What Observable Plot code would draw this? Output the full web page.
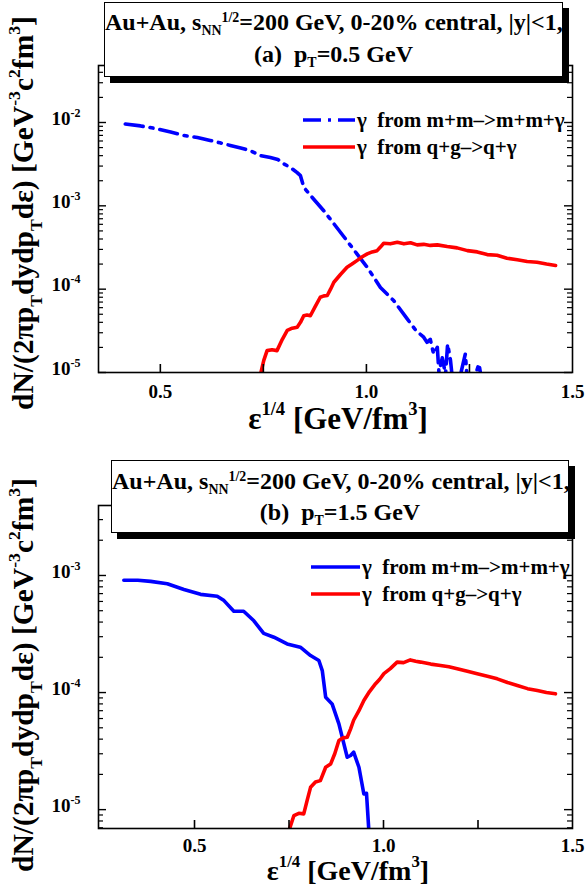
<!DOCTYPE html>
<html>
<head>
<meta charset="utf-8">
<script src="https://cdn.jsdelivr.net/npm/d3@7"></script>
<script src="https://cdn.jsdelivr.net/npm/@observablehq/plot@0.6"></script>
<style>
  body { margin: 0; background: #fff; }
  #wrap { position: relative; width: 585px; height: 886px; overflow: hidden;
          font-family: "Liberation Serif", "Times New Roman", serif; font-weight: bold; color: #000; }
  .panel { position: absolute; left: 0; }
  .tbox { position: absolute; box-sizing: border-box; background: #fff; border: 1px solid #000;
          box-shadow: 6px 6px 0 #000; text-align: center; font-size: 24px; white-space: nowrap; }
  .tbox sub, .tbox sup { font-size: 0.58em; line-height: 0; position: relative; vertical-align: baseline; }
  .tbox sub { top: 0.35em; }
  .tbox sup { top: -0.55em; }
</style>
</head>
<body>
<div id="wrap"></div>
<script>
// ε^(1/4) grid (GeV/fm^3) and photon yields, panel (a): pT = 0.5 GeV
const epsA_mm = [0.415, 0.452, 0.492, 0.525, 0.557, 0.590, 0.621, 0.645, 0.670, 0.695, 0.718, 0.743,
  0.767, 0.785, 0.799, 0.815, 0.832, 0.840, 0.848, 0.868, 0.896, 0.921, 0.953, 0.977, 1.002, 1.034,
  1.066, 1.099, 1.120, 1.139, 1.147, 1.155, 1.163, 1.172, 1.176, 1.184, 1.192, 1.197, 1.204, 1.208,
  1.225, 1.240, 1.244, 1.260, 1.273, 1.278];
const yieldA_mm = [9.6e-3, 9.1e-3, 8.4e-3, 7.7e-3, 7.0e-3, 6.6e-3, 6.1e-3, 5.7e-3, 5.3e-3, 4.95e-3, 4.6e-3, 4.0e-3,
  3.8e-3, 3.6e-3, 3.2e-3, 2.9e-3, 2.5e-3, 2.3e-3, 1.67e-3, 1.27e-3, 8.8e-4, 6.1e-4, 3.8e-4, 2.65e-4, 1.83e-4, 1.05e-4,
  7.3e-5, 4.4e-5, 3.2e-5, 2.65e-5, 2.3e-5, 2.5e-5, 1.67e-5, 2.0e-5, 1.0e-5, 1.5e-5, 9.5e-6, 2.2e-5, 1.4e-5, 9.0e-6,
  8.0e-6, 1.67e-5, 9.0e-6, 8.0e-6, 1.27e-5, 9.0e-6];

const epsA_qg = [0.743, 0.751, 0.759, 0.771, 0.783, 0.796, 0.808, 0.820, 0.832, 0.840, 0.848, 0.856, 0.864,
  0.876, 0.888, 0.897, 0.905, 0.913, 0.921, 0.937, 0.953, 0.965, 0.977, 0.990, 1.002, 1.014, 1.026, 1.034,
  1.042, 1.058, 1.075, 1.091, 1.107, 1.123, 1.139, 1.155, 1.172, 1.196, 1.220, 1.245, 1.269, 1.293, 1.317,
  1.341, 1.366, 1.390, 1.414, 1.437, 1.459];
const yieldA_qg = [9.5e-6, 1.4e-5, 1.83e-5, 1.87e-5, 1.83e-5, 2.5e-5, 3.2e-5, 3.4e-5, 3.5e-5, 4.0e-5, 4.8e-5, 4.9e-5, 4.8e-5,
  6.2e-5, 8.0e-5, 8.3e-5, 8.4e-5, 1.0e-4, 1.21e-4, 1.5e-4, 1.83e-4, 2.0e-4, 2.2e-4, 2.45e-4, 2.65e-4, 2.8e-4, 2.9e-4, 3.2e-4,
  3.55e-4, 3.5e-4, 3.65e-4, 3.5e-4, 3.6e-4, 3.4e-4, 3.45e-4, 3.35e-4, 3.4e-4, 3.25e-4, 3.13e-4, 2.9e-4, 2.8e-4, 2.6e-4, 2.55e-4,
  2.35e-4, 2.25e-4, 2.15e-4, 2.1e-4, 2.0e-4, 1.92e-4];

// panel (b): pT = 1.5 GeV
const epsB_mm = [0.313, 0.350, 0.384, 0.428, 0.472, 0.516, 0.560, 0.578, 0.604, 0.630, 0.657, 0.683, 0.710,
  0.745, 0.780, 0.807, 0.829, 0.838, 0.847, 0.864, 0.882, 0.904, 0.913, 0.921, 0.935, 0.948, 0.955, 0.961];
const yieldB_mm = [9.1e-4, 9.1e-4, 8.9e-4, 8.5e-4, 7.6e-4, 6.9e-4, 6.65e-4, 6.1e-4, 4.95e-4, 4.95e-4, 4.1e-4, 3.2e-4, 2.97e-4,
  2.6e-4, 2.44e-4, 2.07e-4, 1.88e-4, 1.54e-4, 9.1e-5, 8.0e-5, 5.4e-5, 2.8e-5, 2.9e-5, 3.1e-5, 2.3e-5, 1.36e-5, 1.38e-5, 6.8e-6];

const epsB_qg = [0.751, 0.763, 0.776, 0.789, 0.798, 0.807, 0.820, 0.833, 0.847, 0.860, 0.871, 0.882, 0.893,
  0.904, 0.913, 0.921, 0.935, 0.948, 0.963, 0.979, 0.990, 1.001, 1.018, 1.036, 1.053, 1.071, 1.085, 1.098,
  1.125, 1.151, 1.173, 1.195, 1.222, 1.248, 1.275, 1.301, 1.328, 1.354, 1.381, 1.407, 1.431, 1.455];
const yieldB_qg = [6.8e-6, 8.9e-6, 9.3e-6, 9.2e-6, 1.2e-5, 1.55e-5, 1.72e-5, 1.77e-5, 2.3e-5, 2.45e-5, 3.0e-5, 3.9e-5, 4.1e-5,
  4.15e-5, 4.9e-5, 5.8e-5, 7.0e-5, 8.55e-5, 1.02e-4, 1.19e-4, 1.3e-4, 1.45e-4, 1.6e-4, 1.82e-4, 1.8e-4, 1.9e-4, 1.85e-4, 1.82e-4,
  1.75e-4, 1.7e-4, 1.66e-4, 1.6e-4, 1.52e-4, 1.45e-4, 1.38e-4, 1.31e-4, 1.22e-4, 1.15e-4, 1.08e-4, 1.04e-4, 1.0e-4, 9.75e-5];

const xTickLabels = [0.5, 1.0, 1.5];
const xTickMarks = [0.5, 0.75, 1.0, 1.25];
const seriesNames = ["γ  from m+m–>m+m+γ", "γ  from q+g–>q+γ"];
const panelTags = ["(a)", "(b)"];
const panelPt = ["0.5", "1.5"];

const W = 585;
const FONT = "'Liberation Serif', 'Times New Roman', serif";
const TICK_FONT = 19;

// append text made of plain / sub / sup pieces
function rich(textSel, parts, F) {
  let cur = 0;
  for (const p of parts) {
    const [str, kind] = Array.isArray(p) ? p : [p, null];
    const off = kind === "sub" ? 0.3 * F : kind === "sup" ? -0.45 * F : 0;
    const ts = textSel.append("tspan").text(str);
    if (off !== cur) ts.attr("dy", off - cur);
    if (kind) ts.attr("font-size", 0.6 * F);
    cur = off;
  }
}

function panel(cfg) {
  const {mm, qg, xDomain, yDomain, height, marginTop, marginBottom, dash, top, legendY,
         yTitleY, xTitleY, xTitleX, xTitleSize, tickPad} = cfg;
  const marginLeft = 98, marginRight = 13;
  const innerW = W - marginLeft - marginRight;
  const innerH = height - marginTop - marginBottom;
  const inDom = v => v >= yDomain[0] * 0.999 && v <= yDomain[1];
  const yMajor = [1e-6, 1e-5, 1e-4, 1e-3, 1e-2, 1e-1].filter(inDom);
  const yMinor = [];
  for (let e = -6; e <= -1; e++) for (let k = 2; k <= 9; k++) { const v = k * 10 ** e; if (inDom(v)) yMinor.push(v); }

  const chart = Plot.plot({
    width: W, height, marginLeft, marginRight, marginTop, marginBottom,
    x: {domain: xDomain, label: null},
    y: {type: "log", domain: yDomain, label: null},
    style: {"font-family": FONT, "font-weight": "bold", "font-size": TICK_FONT + "px", "color": "#000", "background": "#fff", "overflow": "visible"},
    marks: [
      Plot.line(mm, {x: "e", y: "v", stroke: "#0000ff", strokeWidth: 3.6, strokeDasharray: dash, clip: true}),
      Plot.line(qg, {x: "e", y: "v", stroke: "#ff0000", strokeWidth: 3.6, clip: true}),
      Plot.frame({stroke: "#000", strokeWidth: 1.6}),
      Plot.tickX(xTickMarks, {x: d => d, insetTop: innerH - 8, stroke: "#000", strokeWidth: 1.6}),
      Plot.tickY(yMajor, {y: d => d, insetRight: innerW - 8, stroke: "#000", strokeWidth: 1.4}),
      Plot.tickY(yMajor, {y: d => d, insetLeft: innerW - 8, stroke: "#000", strokeWidth: 1.4}),
      Plot.tickY(yMinor, {y: d => d, insetRight: innerW - 5, stroke: "#000", strokeWidth: 1.2}),
      Plot.tickY(yMinor, {y: d => d, insetLeft: innerW - 5, stroke: "#000", strokeWidth: 1.2}),
      Plot.axisX({ticks: xTickLabels, tickSize: 0, tickPadding: tickPad, label: null, tickFormat: d3.format(".1f"), fontSize: TICK_FONT}),
      Plot.axisY({ticks: yMajor, tickSize: 0, tickPadding: 18, label: null, dy: -4, fontSize: TICK_FONT,
                  tickFormat: d => `10^${Math.round(Math.log10(d))}`})
    ]
  });

  const svg = d3.select(chart)
    .attr("font-family", FONT).attr("font-weight", "bold").attr("font-size", TICK_FONT);
  svg.selectAll('g[aria-label$="tick label"]').attr("font-size", TICK_FONT);
  // exponent labels on the log axis
  svg.selectAll('g[aria-label="y-axis tick label"] text').each(function () {
    const [b, e] = this.textContent.split("^");
    const t = d3.select(this);
    t.text(null);
    t.append("tspan").text(b);
    t.append("tspan").attr("dy", -8).attr("font-size", 12).text(e);
  });

  const g = svg.append("g").attr("font-family", FONT).attr("font-weight", "bold").attr("fill", "#000")
    .attr("text-anchor", "start").style("white-space", "pre");

  // y title
  const yt = g.append("text").attr("text-anchor", "middle").attr("font-size", 29.5)
    .attr("transform", `translate(33,${yTitleY}) rotate(-90)`);
  rich(yt, ["dN/(2πp", ["T", "sub"], "dydp", ["T", "sub"], "dε) [GeV", ["-3", "sup"], "c", ["2", "sup"], "fm", ["3", "sup"], "]"], 29.5);

  // x title
  const xt = g.append("text").attr("text-anchor", "middle").attr("font-size", xTitleSize)
    .attr("x", xTitleX).attr("y", xTitleY);
  rich(xt, ["ε", ["1/4", "sup"], " [GeV/fm", ["3", "sup"], "]"], xTitleSize);

  // legend
  const lg = g.append("g");
  [["#0000ff", dash], ["#ff0000", null]].forEach(([c, da], i) => {
    const y = legendY[i];
    const ln = lg.append("line").attr("x1", cfg.legendX[0]).attr("x2", cfg.legendX[1])
      .attr("y1", y).attr("y2", y).attr("stroke", c).attr("stroke-width", 3.6);
    if (da) ln.attr("stroke-dasharray", da);
    lg.append("text").attr("x", cfg.legendX[1] + 2).attr("y", y + 7).attr("font-size", 21)
      .attr("text-anchor", "start").style("white-space", "pre").text(seriesNames[i]);
  });

  chart.classList.add("panel");
  chart.style.top = top + "px";
  return chart;
}

const toRows = (xs, vs) => xs.map((e, i) => ({e, v: vs[i]}));
const wrap = document.getElementById("wrap");

wrap.appendChild(panel({
  mm: toRows(epsA_mm, yieldA_mm), qg: toRows(epsA_qg, yieldA_qg),
  xDomain: [0.35, 1.5], yDomain: [1e-5, 0.0483],
  height: 443, marginTop: 65, marginBottom: 71, dash: "18,7,3,7", top: 0, tickPad: 12,
  legendX: [303, 355], legendY: [120, 147], yTitleY: 213, xTitleY: 429, xTitleX: 338, xTitleSize: 31
}));
wrap.appendChild(panel({
  mm: toRows(epsB_mm, yieldB_mm), qg: toRows(epsB_qg, yieldB_qg),
  xDomain: [0.246, 1.5], yDomain: [6.9e-6, 3.96e-3],
  height: 443, marginTop: 62, marginBottom: 58, dash: null, top: 443, tickPad: 10,
  legendX: [311, 360], legendY: [124, 151], yTitleY: 232, xTitleY: 437, xTitleX: 348, xTitleSize: 28
}));

// header boxes
function box(i, left, top, width, height, pad, lh) {
  const d = document.createElement("div");
  d.className = "tbox";
  Object.assign(d.style, {left: left + "px", top: top + "px", width: width + "px", height: height + "px",
    paddingTop: pad + "px", lineHeight: lh + "px"});
  d.innerHTML = `<div>Au+Au, s<sub>NN</sub><sup>1/2</sup>=200 GeV, 0-20% central, |y|&lt;1,</div>` +
    `<div>${panelTags[i]}&nbsp; p<sub>T</sub>=${panelPt[i]} GeV</div>`;
  wrap.appendChild(d);
}
box(0, 104, 2, 459, 75, 3, 32);
box(1, 111, 460, 458, 73, 5, 31);
</script>
</body>
</html>
